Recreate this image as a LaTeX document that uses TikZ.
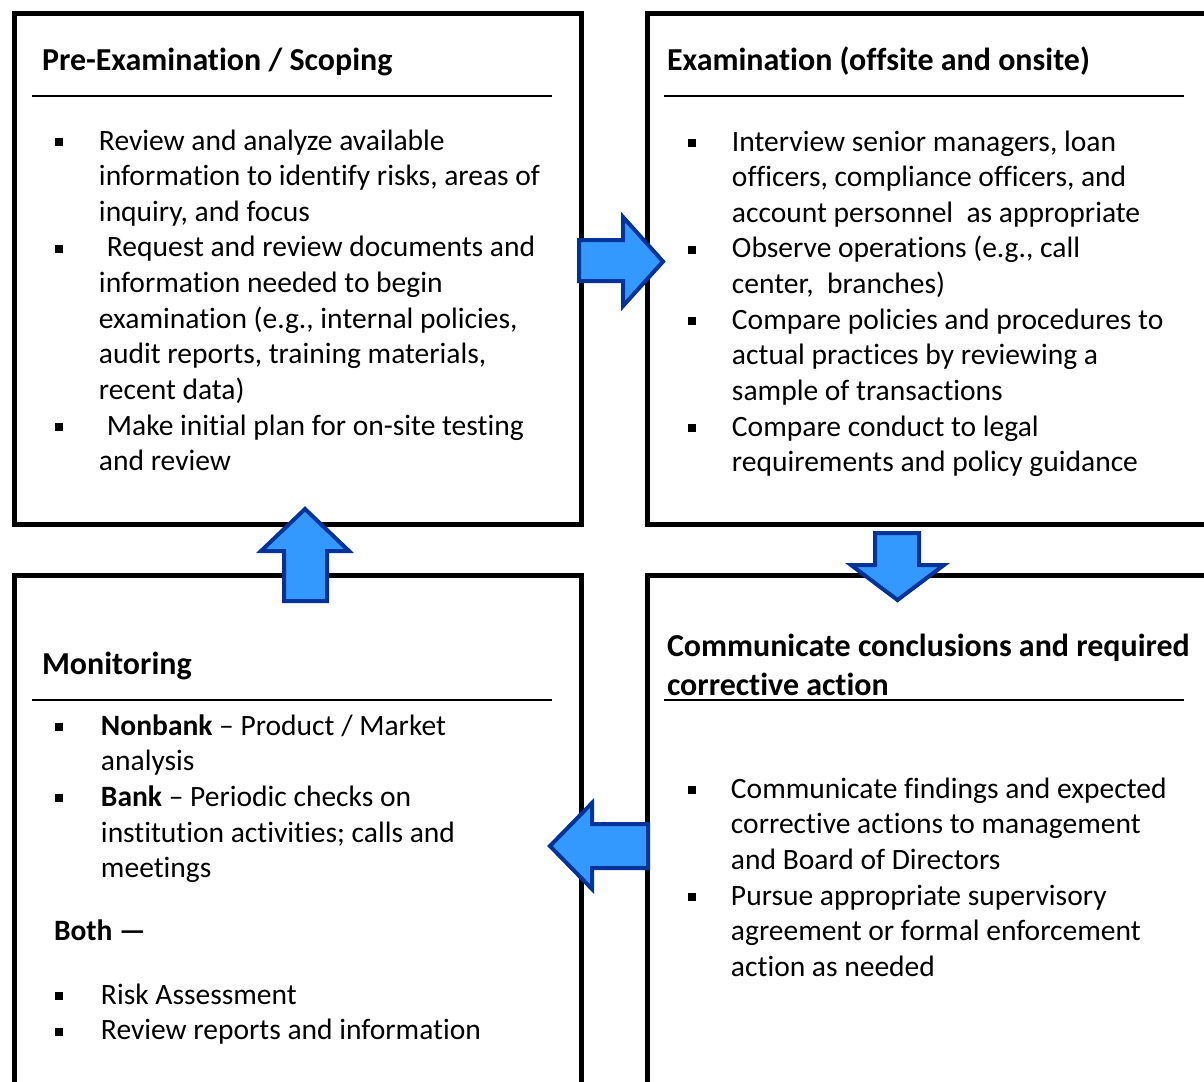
\documentclass[tikz,border=0pt]{standalone}
\usepackage{fontspec}
\setmainfont{Carlito}[Ligatures=NoCommon]
\usetikzlibrary{calc}

\definecolor{arrowfill}{RGB}{51,153,255}
\definecolor{arrowline}{RGB}{0,51,153}

\newcommand{\sqbul}{\rule[2.3pt]{4.5pt}{4.5pt}}
\newcommand{\bodyfont}{\fontsize{16.8}{20.3}\selectfont}
\newcommand{\headfont}{\fontsize{18.2}{22}\selectfont\bfseries}

\begin{document}
\begin{tikzpicture}[x=0.02cm, y=-0.02cm, outer sep=0pt, inner sep=0pt,
  panel/.style={draw, line width=0.1cm, rectangle},
  rulesep/.style={line width=0.04cm},
  head/.style={anchor=base west, font=\headfont},
  body/.style={anchor=base west, font=\bodyfont},
  blockarrow/.style={fill=arrowfill, draw=arrowline, line width=0.08cm, line join=miter}]

\useasboundingbox (0,0) rectangle (1204,1082);
\clip (0,0) rectangle (1204,1082);

% the four panels
\node[panel, minimum width=11.35cm, minimum height=10.22cm] at (298.25, 269) (pre) {};
\node[panel, minimum width=11.85cm, minimum height=10.22cm] at (943.75, 269) (exam) {};
\node[panel, minimum width=11.35cm, minimum height=10.9cm] at (298.25, 847.5) (mon) {};
\node[panel, minimum width=11.85cm, minimum height=10.9cm] at (943.75, 847.5) (comm) {};

% titles
\node[head] at (42, 70) (preT) {Pre-Examination / Scoping};
\node[head] at (667, 70) (examT) {Examination (offsite and onsite)};
\node[head] at (42, 674) (monT) {Monitoring};
\node[head] at (667, 656) (commT) {Communicate conclusions and required};
\node[head] at (667, 695) (commTb) {corrective action};

\draw[rulesep] (32, 96) -- (552, 96);
\draw[rulesep] (664, 96) -- (1184, 96);
\draw[rulesep] (32, 700) -- (552, 700);
\draw[rulesep] (664, 700) -- (1184, 700);

% lists
\node[body] at (55, 150) (preL) {\begin{tabular}[t]{@{}p{0.88cm}@{}l@{}}
\sqbul & Review and analyze available\\
 & information to identify risks, areas of\\
 & inquiry, and focus\\
\sqbul & \hspace{4.5pt}Request and review documents and\\
 & information needed to begin\\
 & examination (e.g., internal policies,\\
 & audit reports, training materials,\\
 & recent data)\\
\sqbul & \hspace{4.5pt}Make initial plan for on-site testing\\
 & and review
\end{tabular}};

\node[body] at (688, 151) (examL) {\begin{tabular}[t]{@{}p{0.88cm}@{}l@{}}
\sqbul & Interview senior managers, loan\\
 & officers, compliance officers, and\\
 & account personnel\ \ as appropriate\\
\sqbul & Observe operations (e.g., call\\
 & center,\ \ branches)\\
\sqbul & Compare policies and procedures to\\
 & actual practices by reviewing a\\
 & sample of transactions\\
\sqbul & Compare conduct to legal\\
 & requirements and policy guidance
\end{tabular}};

\node[body] at (55, 735) (monL) {\begin{tabular}[t]{@{}p{0.92cm}@{}l@{}}
\sqbul & \textbf{Nonbank} – Product / Market\\
 & analysis\\
\sqbul & \textbf{Bank} – Periodic checks on\\
 & institution activities; calls and\\
 & meetings
\end{tabular}};
\node[body, font=\bodyfont\bfseries] at (54, 940) (both) {Both —};
\node[body] at (55, 1004) (bothL) {\begin{tabular}[t]{@{}p{0.92cm}@{}l@{}}
\sqbul & Risk Assessment\\
\sqbul & Review reports and information
\end{tabular}};

\node[body] at (688, 798) (commL) {\begin{tabular}[t]{@{}p{0.86cm}@{}l@{}}
\sqbul & Communicate findings and expected\\
 & corrective actions to management\\
 & and Board of Directors\\
\sqbul & Pursue appropriate supervisory\\
 & agreement or formal enforcement\\
 & action as needed
\end{tabular}};

% block arrows between the panels
\draw[blockarrow] (579,240) -- (623,240) -- (623,217) -- (663,261.5) -- (623,306) -- (623,281) -- (579,281) -- cycle;
\draw[blockarrow] (875,533) -- (919,533) -- (919,565) -- (944,565) -- (897.5,600) -- (851,565) -- (875,565) -- cycle;
\draw[blockarrow] (648,824) -- (592,824) -- (592,803) -- (550,846) -- (592,889) -- (592,868) -- (648,868) -- cycle;
\draw[blockarrow] (284,601) -- (284,551) -- (261,551) -- (305,509) -- (349,551) -- (327,551) -- (327,601) -- cycle;
\end{tikzpicture}
\end{document}
